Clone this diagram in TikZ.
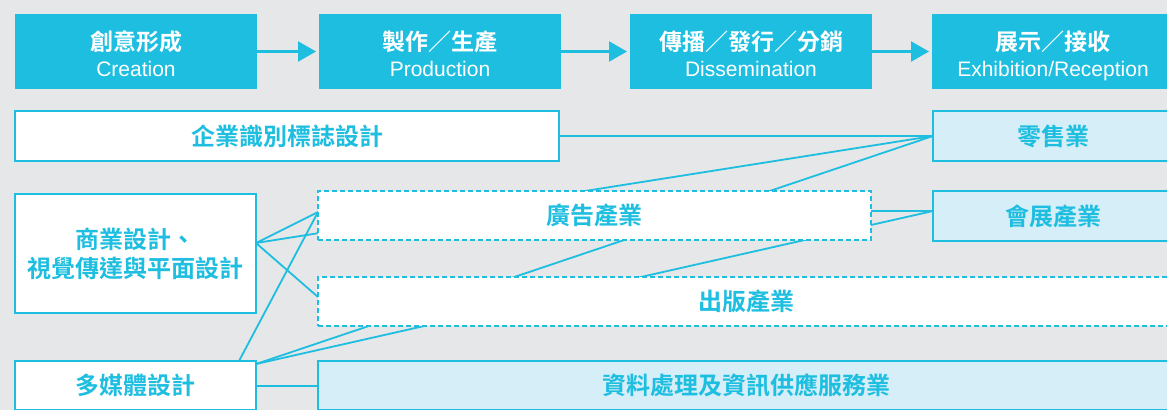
\documentclass[tikz,border=0pt]{standalone}
\usepackage{fontspec}
\setmainfont{Liberation Sans}
\newfontfamily\cjk{Noto Sans CJK TC Bold}
\usetikzlibrary{arrows.meta}
\definecolor{cy}{HTML}{1EBEE0}
\definecolor{lb}{HTML}{D5EEF7}
\definecolor{bgg}{HTML}{E6E7E9}
\pgfdeclarelayer{bg}
\pgfsetlayers{bg,main}
\begin{document}
\begin{tikzpicture}[x=1pt,y=-1pt,
 topbox/.style={fill=cy, minimum width=242pt, minimum height=75pt, inner sep=0pt, outer sep=0pt},
 toptitle/.style={text=white, font=\cjk\fontsize{23}{23}\selectfont, inner sep=0pt},
 topsub/.style={text=white, font=\fontsize{21}{21}\selectfont, inner sep=0pt},
 flow/.style={draw=cy, line width=2.2pt, shorten >=3pt, -{Triangle[width=20pt,length=18pt]}},
 solidbox/.style={draw=cy, line width=1.6pt, fill=white, inner sep=0pt, outer sep=0pt, text=cy, font=\cjk\fontsize{24}{29}\selectfont, align=center},
 sharebox/.style={solidbox, fill=lb},
 dashbox/.style={solidbox, dash pattern=on 5pt off 3pt},
 link/.style={draw=cy, line width=1.8pt},
]
\path[use as bounding box] (0,0) rectangle (1167,410);
\clip (0,0) rectangle (1167,410);

% top flow
\node[topbox] (t1) at (136,51.5) {};
\node[topbox] (t2) at (440,51.5) {};
\node[topbox] (t3) at (751,51.5) {};
\node[topbox] (t4) at (1053,51.5) {};
\node[toptitle] (t1a) at (136,42) {創意形成};
\node[topsub, anchor=base] (t1b) at (136,76) {Creation};
\node[toptitle] (t2a) at (440,42) {製作／生產};
\node[topsub, anchor=base] (t2b) at (440,76) {Production};
\node[toptitle] (t3a) at (751,42) {傳播／發行／分銷};
\node[topsub, anchor=base] (t3b) at (751,76) {Dissemination};
\node[toptitle] (t4a) at (1053,42) {展示／接收};
\node[topsub, anchor=base] (t4b) at (1053,76) {Exhibition/Reception};
\draw[flow] (t1.east) -- (t2.west);
\draw[flow] (t2.east) -- (t3.west);
\draw[flow] (t3.east) -- (t4.west);

% boxes
\node[solidbox, minimum width=544pt, minimum height=50pt] (cis) at (287,136) {企業識別標誌設計};
\node[sharebox, minimum width=240pt, minimum height=50pt] (ret) at (1053,136) {零售業};
\node[solidbox, minimum width=241pt, minimum height=119pt] (com) at (135.5,253.5) {商業設計、\\視覺傳達與平面設計};
\node[dashbox, minimum width=553pt, minimum height=49pt] (adv) at (594.5,215.5) {廣告產業};
\node[sharebox, minimum width=240pt, minimum height=50pt] (exh) at (1053,216) {會展產業};
\node[dashbox, minimum width=856pt, minimum height=49pt] (pub) at (746,301.5) {出版產業};
\node[solidbox, minimum width=241pt, minimum height=48.5pt] (mm) at (135.5,385.25) {多媒體設計};
\node[sharebox, minimum width=856pt, minimum height=48.5pt] (dat) at (746,385.25) {資料處理及資訊供應服務業};

% anchor points
\coordinate (retA) at (ret.west);
\coordinate (exhA) at ([yshift=5pt]exh.west);
\coordinate (comA) at ([yshift=10.5pt]com.east);
\coordinate (advL) at ([yshift=3.5pt]adv.west);
\coordinate (advR) at ([yshift=4.5pt]adv.east);
\coordinate (pubL) at ([yshift=4.5pt]pub.west);
\coordinate (mmT) at ([xshift=-17pt]mm.north east);
\coordinate (mmC) at ([yshift=-3pt]mm.north east);
\coordinate (mmE) at ([yshift=-0.5pt]mm.east);
\coordinate (datW) at ([yshift=-0.5pt]dat.west);

\begin{pgfonlayer}{bg}
\fill[bgg] (0,0) rectangle (1167,410);
\draw[link] (cis.east) -- (retA);
\draw[link] (comA) -- (retA);
\draw[link] (comA) -- (advL);
\draw[link] (comA) -- (pubL);
\draw[link] (mmT) -- (advL);
\draw[link] (mmC) -- (retA);
\draw[link] (mmC) -- (exhA);
\draw[link] (advR) -- (exhA);
\draw[link] (mmE) -- (datW);
\end{pgfonlayer}
\end{tikzpicture}
\end{document}
